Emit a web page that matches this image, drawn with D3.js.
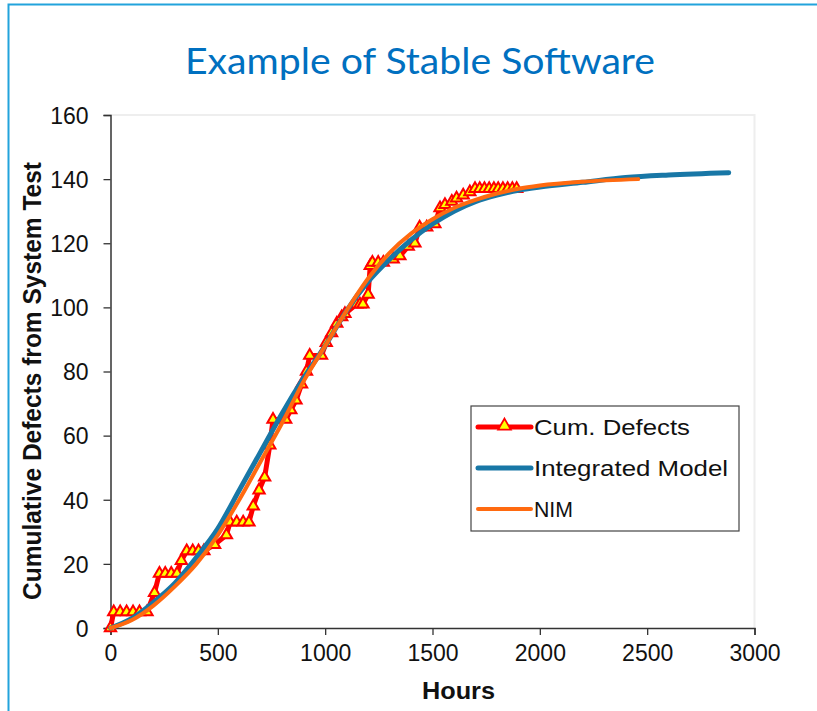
<!DOCTYPE html>
<html>
<head>
<meta charset="utf-8">
<script src="https://cdn.jsdelivr.net/npm/d3@7"></script>
<style>
  html, body { margin: 0; padding: 0; background: #fff; }
  svg { display: block; }
</style>
</head>
<body>
<svg id="chart" width="817" height="711"></svg>
<script>
// ---- Data ----
const titleText = "Example of Stable Software";
const xTicks = [0, 500, 1000, 1500, 2000, 2500, 3000];
const yTicks = [0, 20, 40, 60, 80, 100, 120, 140, 160];

// Cum. Defects (observed)
const defectHours = [0, 15, 45, 75, 105, 135, 170, 205, 228, 255, 283, 310, 330, 355, 383, 410, 435, 485, 540, 557, 588, 618, 645, 665, 692, 718, 742, 757, 816, 840, 864, 890, 913, 928, 983, 1005, 1030, 1054, 1077, 1092, 1147, 1162, 1176, 1200, 1210, 1220, 1247, 1271, 1317, 1348, 1387, 1418, 1440, 1473, 1511, 1535, 1558, 1590, 1612, 1643, 1674, 1698, 1720, 1742, 1764, 1786, 1806, 1828, 1850, 1872, 1892];
const defectCounts = [0, 5, 5, 5, 5, 5, 5, 11, 17, 17, 17, 17, 21, 24, 24, 24, 24, 26, 29, 33, 33, 33, 33, 38, 43, 47, 57, 65, 65, 68, 71, 76, 80, 85, 85, 89, 92, 95, 97, 98, 101, 101, 101, 104, 113, 114, 114, 114, 115, 116, 119, 120, 125, 125, 126, 131, 132, 133, 134, 135, 136, 137, 137, 137, 137, 137, 137, 137, 137, 137, 137];

// Integrated Model
const imHours  = [0, 100, 200, 300, 400, 500, 600, 700, 800, 900, 1000, 1100, 1200, 1300, 1400, 1500, 1600, 1700, 1800, 1900, 2000, 2200, 2400, 2600, 2880];
const imValues = [0, 3, 8, 14, 22, 31, 43, 55, 67, 78, 88, 99, 108, 115, 121, 126, 130, 133, 135, 136.5, 137.5, 139, 140.5, 141.3, 142];

// NIM
const nimHours  = [0, 100, 200, 300, 400, 500, 600, 700, 800, 900, 1000, 1100, 1200, 1300, 1400, 1500, 1600, 1700, 1800, 1900, 2000, 2200, 2458];
const nimValues = [0, 2.5, 7, 13, 20, 29, 40, 52, 64, 77, 88, 99, 109, 117, 123, 127.5, 131, 133.5, 135.5, 137, 138, 139.2, 140];

const legendLabels = ["Cum. Defects", "Integrated Model", "NIM"];
const legendWidths = [156, 194, 39];

// ---- Drawing ----
const svg = d3.select("#chart");
const RED = "#ff0000", YEL = "#ffff00", BLUE = "#1877a6", ORANGE = "#ff6a10";

// slide border
svg.append("path").attr("d", "M8.5,711 L8.5,4.5 L817,4.5")
  .attr("fill", "none").attr("stroke", "#22a3dc").attr("stroke-width", 2);

// title
svg.append("text").attr("x", 420).attr("y", 74).attr("text-anchor", "middle")
  .attr("font-family", "Lato, 'Open Sans', sans-serif").attr("font-size", 36)
  .attr("fill", "#0070c0").attr("textLength", 470).attr("lengthAdjust", "spacingAndGlyphs")
  .text(titleText);

const x = d3.scaleLinear().domain([0, 3000]).range([110.5, 754.5]);
const y = d3.scaleLinear().domain([0, 160]).range([628, 115]);

// plot frame (light)
svg.append("path").attr("d", `M${x(0)},${y(160)} L${x(3000)},${y(160)} L${x(3000)},${y(0)}`)
  .attr("fill", "none").attr("stroke", "#eeeeee").attr("stroke-width", 2);

// axes
const xAxis = svg.append("g").attr("transform", `translate(0,${y(0)})`)
  .call(d3.axisBottom(x).tickValues(xTicks).tickFormat(d3.format("d")).tickSize(7).tickPadding(10).tickSizeOuter(7));
const yAxis = svg.append("g").attr("transform", `translate(${x(0)},0)`)
  .call(d3.axisLeft(y).tickValues(yTicks).tickFormat(d3.format("d")).tickSize(7).tickPadding(15).tickSizeOuter(7));
[xAxis, yAxis].forEach(g => {
  g.selectAll("path").attr("stroke", "#333").attr("stroke-width", 1.5);
  g.selectAll("line").attr("stroke", "#333").attr("stroke-width", 1.3);
  g.selectAll("text").attr("font-family", "Arial, 'Liberation Sans', sans-serif")
    .attr("font-size", 23).attr("fill", "#111");
});
xAxis.selectAll("text").attr("dy", "0.71em");
yAxis.selectAll("text").attr("dy", "0.36em");

// axis titles
svg.append("text").attr("x", 458.5).attr("y", 699).attr("text-anchor", "middle")
  .attr("font-family", "Arial, 'Liberation Sans', sans-serif").attr("font-weight", "bold")
  .attr("font-size", 23).attr("fill", "#111").attr("textLength", 73).attr("lengthAdjust", "spacingAndGlyphs")
  .text("Hours");
svg.append("text").attr("transform", "translate(41,381) rotate(-90)").attr("text-anchor", "middle")
  .attr("font-family", "Arial, 'Liberation Sans', sans-serif").attr("font-weight", "bold")
  .attr("font-size", 26).attr("fill", "#111").attr("textLength", 438).attr("lengthAdjust", "spacingAndGlyphs")
  .text("Cumulative Defects from System Test");

// series
const defects = defectHours.map((h, i) => [h, defectCounts[i]]);
const im = imHours.map((h, i) => [h, imValues[i]]);
const nim = nimHours.map((h, i) => [h, nimValues[i]]);

const straight = d3.line().x(d => x(d[0])).y(d => y(d[1]));
const smooth = d3.line().x(d => x(d[0])).y(d => y(d[1])).curve(d3.curveMonotoneX);

svg.append("path").datum(defects).attr("d", straight)
  .attr("fill", "none").attr("stroke", RED).attr("stroke-width", 5).attr("stroke-linejoin", "round");
const tri = d3.symbol().type(d3.symbolTriangle).size(55);
svg.append("g").selectAll("path").data(defects).join("path")
  .attr("d", tri).attr("transform", d => `translate(${x(d[0])},${y(d[1])})`)
  .attr("fill", YEL).attr("stroke", RED).attr("stroke-width", 2);

svg.append("path").datum(im).attr("d", smooth)
  .attr("fill", "none").attr("stroke", BLUE).attr("stroke-width", 5).attr("stroke-linecap", "round");
svg.append("path").datum(nim).attr("d", smooth)
  .attr("fill", "none").attr("stroke", ORANGE).attr("stroke-width", 4).attr("stroke-linecap", "round");

// legend
const lg = svg.append("g");
lg.append("rect").attr("x", 471).attr("y", 406).attr("width", 268).attr("height", 125)
  .attr("fill", "#fff").attr("stroke", "#444").attr("stroke-width", 1.2);
const rowsY = [427, 468, 509];
const colors = [RED, BLUE, ORANGE];
const widths = [5, 5, 4];
legendLabels.forEach((lab, i) => {
  lg.append("line").attr("x1", 478).attr("x2", 531).attr("y1", rowsY[i]).attr("y2", rowsY[i])
    .attr("stroke", colors[i]).attr("stroke-width", widths[i]).attr("stroke-linecap", "round");
  if (i === 0) {
    lg.append("path").attr("d", d3.symbol().type(d3.symbolTriangle).size(70))
      .attr("transform", `translate(504.5,${rowsY[i] - 1})`)
      .attr("fill", YEL).attr("stroke", RED).attr("stroke-width", 1.8);
  }
  lg.append("text").attr("x", 534).attr("y", rowsY[i] + 7.5)
    .attr("font-family", "Arial, 'Liberation Sans', sans-serif").attr("font-size", 22)
    .attr("fill", "#111").attr("textLength", legendWidths[i]).attr("lengthAdjust", "spacingAndGlyphs")
    .text(lab);
});
</script>
</body>
</html>
